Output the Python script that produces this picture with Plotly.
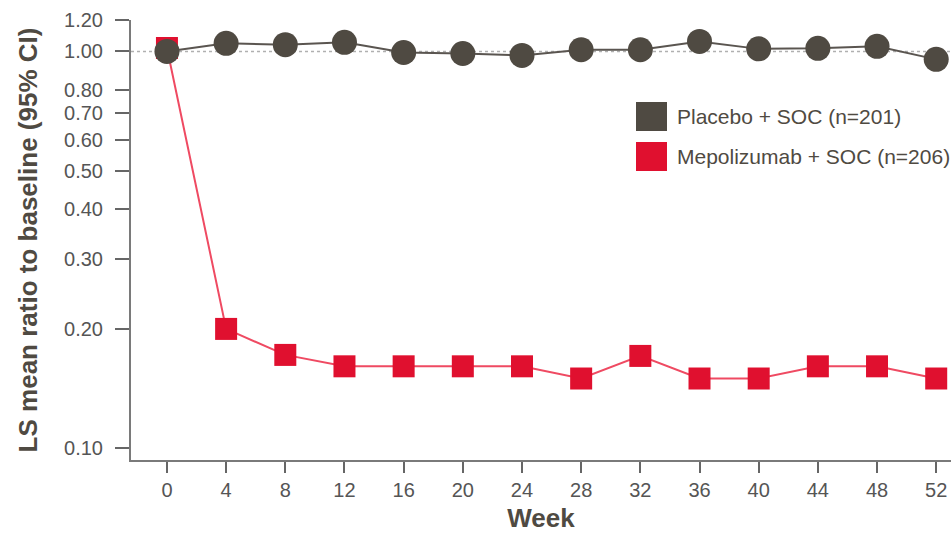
import plotly.graph_objects as go
import math

weeks = [0, 4, 8, 12, 16, 20, 24, 28, 32, 36, 40, 44, 48, 52]
placebo = [1.00, 1.048, 1.04, 1.054, 0.994, 0.988, 0.977, 1.01, 1.01, 1.06, 1.015, 1.018, 1.03, 0.955]
mepo = [1.02, 0.200, 0.172, 0.161, 0.161, 0.161, 0.161, 0.150, 0.171, 0.150, 0.150, 0.161, 0.161, 0.150]
ytick_vals = [0.10, 0.20, 0.30, 0.40, 0.50, 0.60, 0.70, 0.80, 1.00, 1.20]
ytick_text = ["0.10", "0.20", "0.30", "0.40", "0.50", "0.60", "0.70", "0.80", "1.00", "1.20"]
legend_labels = ["Placebo + SOC (n=201)", "Mepolizumab + SOC (n=206)"]

dark = "#4f4a42"
red = "#e0102f"
font = "Liberation Sans, Arial, sans-serif"

fig = go.Figure()
fig.add_trace(go.Scatter(
    x=weeks, y=mepo, mode="lines+markers", name=legend_labels[1],
    line=dict(color="#ef4a62", width=2),
    marker=dict(symbol="square", size=22, color=red),
    cliponaxis=False, showlegend=False, hoverinfo="skip"))
fig.add_trace(go.Scatter(
    x=weeks, y=placebo, mode="lines+markers", name=legend_labels[0],
    line=dict(color="#5a5550", width=2),
    marker=dict(symbol="circle", size=25, color=dark),
    cliponaxis=False, showlegend=False, hoverinfo="skip"))

# reference line at 1.0
fig.add_shape(type="line", xref="paper", yref="y", x0=0, x1=1, y0=1.0, y1=1.0,
              line=dict(color="#b0b0b0", width=1.5, dash="dot"), layer="below")

# custom legend
for i, (lab, col) in enumerate(zip(legend_labels, [dark, red])):
    y0 = 102 + i * 40
    fig.add_shape(type="rect", xref="paper", yref="paper",
                  x0=(636 - 131) / 820, x1=(667 - 131) / 820,
                  y0=(460 - (y0 + 29)) / 440, y1=(460 - y0) / 440,
                  fillcolor=col, line=dict(width=0))
    fig.add_annotation(xref="paper", yref="paper", x=(675 - 131) / 820,
                       y=(460 - (y0 + 14.5)) / 440, text=lab, showarrow=False,
                       xanchor="left", yanchor="middle",
                       font=dict(size=21, color=dark, family=font))

fig.update_layout(
    width=951, height=533,
    margin=dict(l=131, r=0, t=20, b=73),
    paper_bgcolor="white", plot_bgcolor="white",
    font=dict(family=font, color=dark),
    xaxis=dict(
        range=[-2.43, 53.0], tickvals=weeks, ticktext=[str(w) for w in weeks],
        showline=True, linecolor="#7a7a7a", linewidth=2,
        ticks="outside", ticklen=11, tickcolor="#666", tickwidth=1.5,
        showgrid=False, zeroline=False, automargin=False,
        tickfont=dict(size=20, color="#555", family=font),
        title=dict(text="<b>Week</b>", font=dict(size=26, color=dark, family=font), standoff=14),
    ),
    yaxis=dict(
        type="log", range=[math.log10(0.0935), math.log10(1.2)],
        tickvals=ytick_vals, ticktext=ytick_text,
        showline=True, linecolor="#7a7a7a", linewidth=2,
        ticks="outside", ticklen=14, tickcolor="#666", tickwidth=1.5,
        ticklabelstandoff=8,
        showgrid=False, zeroline=False, automargin=False,
        tickfont=dict(size=20, color="#555", family=font),
        title=dict(text="<b>LS mean ratio to baseline (95% CI)</b>",
                   font=dict(size=26, color=dark, family=font), standoff=19),
    ),
)

fig.write_html("out.html", config={"displayModeBar": False},
               post_script="document.body.style.margin='0';document.body.style.overflow='hidden';")
